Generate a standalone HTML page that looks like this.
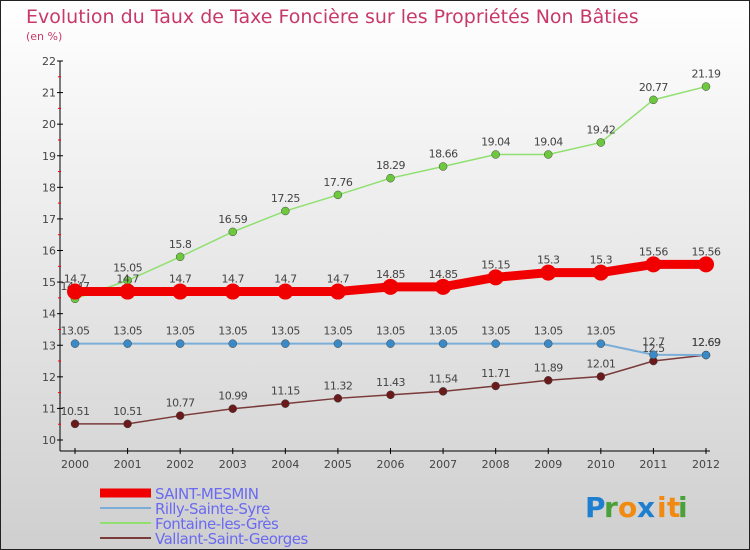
<!DOCTYPE html>
<html><head><meta charset="utf-8"><style>
body{margin:0;width:750px;height:550px;overflow:hidden}
svg{display:block}
text{font-family:"DejaVu Sans","Liberation Sans",sans-serif}
</style></head><body>
<svg id="c" width="750" height="550">
<defs><linearGradient id="bg" x1="0" y1="0" x2="0" y2="1"><stop offset="0" stop-color="#ffffff"/><stop offset="1" stop-color="#cfcfcf"/></linearGradient></defs>
<rect x="0.5" y="0.5" width="749" height="549" fill="url(#bg)" stroke="#222"/>
<text x="26" y="23" font-size="19" fill="#c8386a">Evolution du Taux de Taxe Foncière sur les Propriétés Non Bâties</text>
<text x="26" y="40" font-size="11" fill="#c8386a">(en %)</text>
<g id="axes"></g><g id="series"></g><g id="legend"></g>
<g font-size="28" font-weight="bold">
<text x="585" y="517" fill="#1e7fd0">P</text><text x="604" y="517" fill="#4aa03a">r</text><text x="618" y="517" fill="#f08a10">o</text><text x="637" y="517" fill="#1e7fd0">x</text><text x="657" y="517" fill="#f08a10">i</text><text x="667" y="517" fill="#f08a10">t</text><text x="678" y="517" fill="#4aa03a">i</text>
</g>
</svg>
<script>
const years=[2000,2001,2002,2003,2004,2005,2006,2007,2008,2009,2010,2011,2012];
const yTicks=[10,11,12,13,14,15,16,17,18,19,20,21,22];
const saintMesmin=[14.7,14.7,14.7,14.7,14.7,14.7,14.85,14.85,15.15,15.3,15.3,15.56,15.56];
const rilly=[13.05,13.05,13.05,13.05,13.05,13.05,13.05,13.05,13.05,13.05,13.05,12.7,12.69];
const fontaine=[14.47,15.05,15.8,16.59,17.25,17.76,18.29,18.66,19.04,19.04,19.42,20.77,21.19];
const vallant=[10.51,10.51,10.77,10.99,11.15,11.32,11.43,11.54,11.71,11.89,12.01,12.5,12.69];
const NS="http://www.w3.org/2000/svg";
const X=i=>75+i*(706-75)/(years.length-1);
const Y=v=>440-(v-10)*(440-61)/12;
function mk(p,t,a){const e=document.createElementNS(NS,t);for(const k in a)e.setAttribute(k,a[k]);p.appendChild(e);return e;}
const ax=document.getElementById('axes');
let yl=mk(ax,'line',{x1:60,y1:61,x2:60,y2:451,stroke:'#000'});


let xl=mk(ax,'line',{x1:60,y1:451,x2:710,y2:451,stroke:'#000'});


yTicks.forEach(v=>{
 mk(ax,'line',{x1:57,y1:Y(v),x2:63,y2:Y(v),stroke:'#000'});
 if(v<22)mk(ax,'line',{x1:58,y1:Y(v+0.5),x2:61,y2:Y(v+0.5),stroke:'#f00'});
 const t=mk(ax,'text',{x:56,y:Y(v)+4,'font-size':11,fill:'#444','text-anchor':'end'});t.textContent=v;
 
 
});
years.forEach((y,i)=>{
 mk(ax,'line',{x1:X(i),y1:448,x2:X(i),y2:454,stroke:'#000'});
 const t=mk(ax,'text',{x:X(i),y:468,'font-size':11,fill:'#444','text-anchor':'middle'});t.textContent=y;
 
 
});
const series=[
 {name:'Vallant-Saint-Georges',d:vallant,c:'#7a3a3a',dot:'#6a1a1a',w:1.5,r:4},
 {name:'Fontaine-les-Grès',d:fontaine,c:'#90e070',dot:'#6cc83c',w:1.5,r:4},
 {name:'Rilly-Sainte-Syre',d:rilly,c:'#7aaed8',dot:'#3a8ac8',w:2,r:4},
 {name:'SAINT-MESMIN',d:saintMesmin,c:'#f00000',dot:'#f00000',w:9,r:8}];
const sg=document.getElementById('series');
series.forEach(s=>{
 const g=mk(sg,'g',{});
 
 
 mk(g,'polyline',{points:s.d.map((v,i)=>X(i)+','+Y(v)).join(' '),fill:'none',stroke:s.c,'stroke-width':s.w});
 s.d.forEach((v,i)=>{
  const p=mk(g,'circle',{cx:X(i),cy:Y(v),r:s.r,fill:s.dot,stroke:'#444','stroke-width':s.r>5?0:0.5});
  
  
  const t=mk(g,'text',{x:X(i),y:Y(v)-9,'font-size':11,fill:'#444','text-anchor':'middle','letter-spacing':'-0.5'});t.textContent=v;
  
  
 });
});
const lg=document.getElementById('legend');
[['SAINT-MESMIN','#f00000',9],['Rilly-Sainte-Syre','#7aaed8',2],['Fontaine-les-Grès','#90e070',2],['Vallant-Saint-Georges','#7a3a3a',2]].forEach((e,i)=>{
 const y=493+i*15;
 const g=mk(lg,'g',{});
 
 
 mk(g,'line',{x1:100,y1:y,x2:151,y2:y,stroke:e[1],'stroke-width':e[2]});
 const t=mk(g,'text',{x:155,y:y+6,'font-size':15,fill:'#6a6af0','letter-spacing':'-0.5'});t.textContent=e[0];
});
</script>
</body></html>
